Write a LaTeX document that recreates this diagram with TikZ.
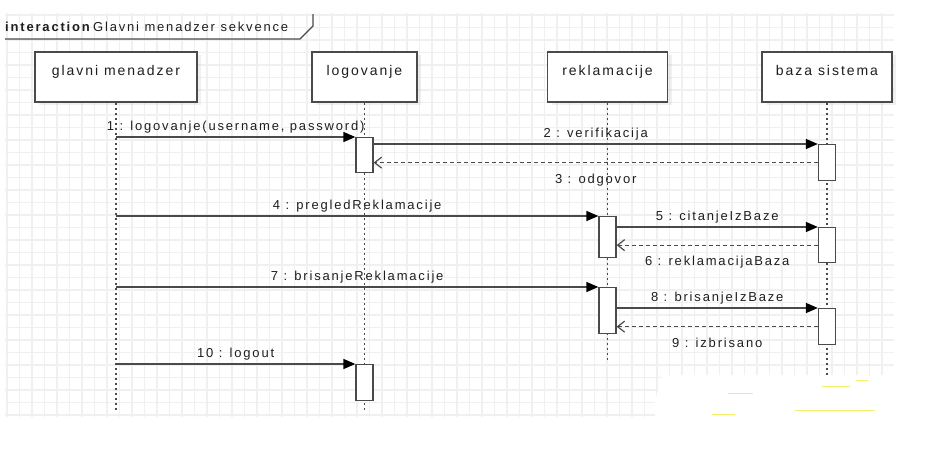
\documentclass[tikz,border=0pt]{standalone}
\usepackage{fontspec}
\setmainfont[LetterSpace=14]{Liberation Sans}
\usetikzlibrary{arrows.meta,shadows}

\definecolor{linegray}{HTML}{4A4A4A}
\definecolor{gridgray}{HTML}{F0F0F0}
\definecolor{textgray}{HTML}{1E1E1E}
\definecolor{speck}{HTML}{F4F06A}

\tikzset{
  gridline/.style={draw=gridgray, line width=1.3pt},
  lifebox/.style={draw=linegray, line width=1.4pt, fill=white, minimum height=50pt,
    inner ysep=13pt, text height=10pt, text depth=14pt, text=textgray,
    font=\fontsize{14}{16}\selectfont,
    drop shadow={shadow xshift=4pt, shadow yshift=-3pt, opacity=0.12}},
  lifeline/.style={draw=linegray, line width=1.5pt, dash pattern=on 2.5pt off 2.5pt},
  actbar/.style={draw=linegray, line width=1.3pt, fill=white, minimum width=17pt,
    inner sep=0pt, anchor=north},
  msg/.style={draw=linegray, line width=1.5pt, -{Triangle[length=12pt,width=10pt,color=black]}},
  ret/.style={draw=linegray, line width=1.2pt, dash pattern=on 4pt off 3pt,
    -{Straight Barb[length=7pt,width=11pt]}},
  msglabel/.style={font=\fontsize{13}{15}\selectfont, text=textgray, inner sep=3pt,
    text height=9pt, text depth=3pt},
}

\begin{document}
\begin{tikzpicture}[x=1pt, y=-1pt]
  \useasboundingbox (0,0) rectangle (932,458);

  % background grid
  \foreach \gx in {7,19.5,...,894} \draw[gridline] (\gx,13) -- (\gx,417);
  \foreach \gy in {15,27.5,...,417} \draw[gridline] (5,\gy) -- (894,\gy);

  % frame
  \draw[linegray, line width=1.2pt] (5,39) -- (300,39) -- (313,26) -- (313,14);
  \node[anchor=west, inner sep=0pt, text=textgray, font=\fontsize{13}{15}\selectfont]
    (frametitle) at (5,27) {\textbf{interaction}\hspace{1.5pt}Glavni menadzer sekvence};

  % lifeline heads
  \node[lifebox, minimum width=162pt] (gm) at (116,77)   {glavni menadzer};
  \node[lifebox, minimum width=105pt] (lg) at (364.5,77) {logovanje};
  \node[lifebox, minimum width=120pt] (re) at (607.5,77) {reklamacije};
  \node[lifebox, minimum width=130pt] (bz) at (827,77)   {baza sistema};

  \coordinate (gmEnd) at (116,412);
  \coordinate (lgEnd) at (364.5,412);
  \coordinate (reEnd) at (607.5,360);
  \coordinate (bzEnd) at (827,412);

  \draw[lifeline] (gm.south) -- (gmEnd);
  \draw[lifeline] (lg.south) -- (lgEnd);
  \draw[lifeline] (re.south) -- (reEnd);
  \draw[lifeline] (bz.south) -- (bzEnd);

  % activations
  \node[actbar, minimum height=35pt] (lgA) at (364.5,137) {};
  \node[actbar, minimum height=36pt] (bzA) at (827,144)   {};
  \node[actbar, minimum height=41pt] (reA) at (607.5,216) {};
  \node[actbar, minimum height=35pt] (bzB) at (827,227)   {};
  \node[actbar, minimum height=46pt] (reB) at (607.5,287) {};
  \node[actbar, minimum height=36pt] (bzC) at (827,308)   {};
  \node[actbar, minimum height=36pt] (lgB) at (364.5,364) {};

  % messages
  \draw[msg] (gm.south |- lgA.north) -- (lgA.north west)
    node[msglabel, midway, above] {1 : logovanje(username, password)};
  \draw[msg] (lgA.east |- bzA.north) -- (bzA.north west)
    node[msglabel, midway, above] {2 : verifikacija};
  \draw[ret] (bzA.west) -- (bzA.west -| lgA.east)
    node[msglabel, midway, below=8pt] {3 : odgovor};
  \draw[msg] (gm.south |- reA.north) -- (reA.north west)
    node[msglabel, midway, above] {4 : pregledReklamacije};
  \draw[msg] (reA.east |- bzB.north) -- (bzB.north west)
    node[msglabel, midway, above] {5 : citanjeIzBaze};
  \draw[ret] (bzB.west) -- (bzB.west -| reA.east)
    node[msglabel, midway, below=8pt] {6 : reklamacijaBaza};
  \draw[msg] (gm.south |- reB.north) -- (reB.north west)
    node[msglabel, midway, above] {7 : brisanjeReklamacije};
  \draw[msg] (reB.east |- bzC.north) -- (bzC.north west)
    node[msglabel, midway, above] {8 : brisanjeIzBaze};
  \draw[ret] (bzC.west) -- (bzC.west -| reB.east)
    node[msglabel, midway, below=8pt] {9 : izbrisano};
  \draw[msg] (gm.south |- lgB.north) -- (lgB.north west)
    node[msglabel, midway, above] {10 : logout};

  % white patch lower right
  \fill[white] (663,375) -- (896,375) -- (896,421) -- (655,421) -- (655,400) -- cycle;
  \draw[speck, line width=0.8pt] (728,393) -- (753,393);
  \draw[speck, line width=0.8pt] (712,414) -- (735,414);
  \draw[speck, line width=0.8pt] (795,410) -- (875,410);
  \draw[speck, line width=0.8pt] (822,386) -- (850,386);
  \draw[speck, line width=0.8pt] (856,380) -- (868,380);
\end{tikzpicture}
\end{document}
